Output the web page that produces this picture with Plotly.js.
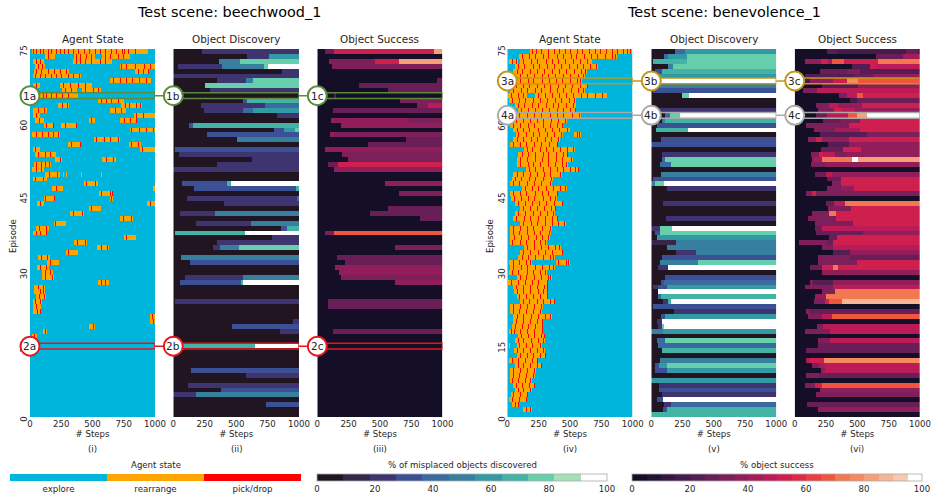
<!DOCTYPE html>
<html><head><meta charset="utf-8">
<script src="https://cdn.plot.ly/plotly-3.0.1.min.js"></script>
<style>html,body{margin:0;padding:0;background:#fff}#c{width:933px;height:496px}</style>
</head><body><div id="c"></div>
<script>
const tickSteps=[0,250,500,750,1000];
const episodeTicks=[0,15,30,45,60,75];
const titles=['Agent State','Object Discovery','Object Success','Agent State','Object Discovery','Object Success'];
const captions=['(i)','(ii)','(iii)','(iv)','(v)','(vi)'];
const sceneTitles=['Test scene: beechwood_1','Test scene: benevolence_1'];
const stateNames=['explore','rearrange','pick/drop'];
const stateColors=['#00b5dc','#ffa500','#ff0000'];
const discoveryColors=['#221522','#362649','#3e3570','#3c5095','#3a6aa0','#367f9e','#3399a2','#43b3a5','#66cfab','#a5e1b7','#ffffff'];
const successColors=['#140e26','#221330','#341744','#451a4c','#561c54','#6a1e57','#7d1f5a','#911e5b','#a61c5a','#bb1b57','#cf1f4f','#df2a47','#ea3e41','#f0553d','#f4784f','#f58a5f','#f6a079','#f6b593','#f6caaf','#ffffff'];

// rows run top (episode 74) to bottom (episode 0); spans are [start,end,...] of non-explore time
const spans1=[[15,945],[115,200,347,520,573,795],[20,107,340,653],[40,120,715,1000],[27,312,835,952],[20,405],[640,965],[20,75,240,493],[253,373,413,565],[80,380],
[540,747],[220,312,725,893],[20,133,640,768],[20,80,827,1000],[40,112,467,520,720,858],[107,192,248,378],[795,1000],[13,240],[507,715],[300,408,787,885],
[20,75,880,1000],[40,205],[195,253,578,685],[27,168],[13,107],[120,235,266,272,286,292,410,416,570,576],[20,133],[427,541],[173,259,981,1000],[547,661],
[107,200,635,661],[53,107,933,1000],[467,568],[320,427],[720,821],[187,288],[48,149],[20,133],[747,848],[352,453],
[533,627],[285,381],[61,160],[133,232],[53,147],[93,181],[93,192],[539,632],[27,120],[32,115],
[43,125],[19,93],[19,90],[19,90],[960,1000],[960,1000],[472,520],[99,133],[13,53],[20,35],
[],[],[],[],[],[],[],[],[],[],[],[],[],[],[]];
const picks1=[[20,45,75,100,140,165,205,240,270,300,345,385,430,470,515,560,600,645,690,735,750,780,835],[140,370,400,445,490,600,640,700,745],[50,80,365,400,440,490,560,600],[65,95,725,770,835,910,960],[45,90,140,190,240,285,860,905,940],[40,80,120,165,205,250,300,345,390],[660,720,770,815,870,930],[45,265,320,385,440],[280,330,440,500,545],[100,130,165,205,255,300],
[565,610,650,700],[255,295,760,790,845,880],[60,110,680,725],[45,850,900],[70,490,750,800,845],[130,180,275,365],[810,870,925,980],[45,95,140,185,225],[530,590,640,700],[330,395,810,860],
[35,895],[60,115,160],[240,610,660],[45,85,120,150],[50,90],[150,215],[40,100],[445,515],[205],[565,640,655],
[120,190,650],[75,960],[490],[345,415],[740,810],[200],[70,125],[45,80,125],[770],[375,440],
[565,615],[305],[90,135],[160],[80,125],[120,160],[120,175],[565,600],[60,100],[75,105],
[70,110],[35,75],[50,85],[55,80],[975],[985],[500],[115],[30],[],
[],[],[],[],[],[],[],[],[],[],[],[],[],[],[]];
const discovery1=[[0,0,225,20],[0,0,583,20,755,60],[0,0,366,50,530,80],[0,0,40,20,384,50,715,80,750,100],[0,0,866,20],[0,20],[0,0,350,20,578,50,636,80],[0,0,252,80],[0,0,291,20],[0,0],
[0,0,556,30,583,70],[0,0,220,20,723,40],[0,0,244,20,556,40,636,60],[0,0,822,20],[0,0],[0,0,125,30,160,70],[0,0,795,30,880,60,967,80],[0,0,270,30],[0,0,509,50],[0,0],
[0,0,13,30],[0,0,45,20],[0,0,623,20],[0,0,345,20],[0,20],[0,0],[0,0],[0,0,74,30,424,70,458,100],[0,0,167,30,975,70],[0,0],
[0,0,111,20,986,40],[0,0,405,20],[0,0],[0,0,58,20,331,50],[0,0],[0,0,180,20,615,50],[0,0,853,30,906,70],[0,0,13,70,570,100],[0,0,782,20],[0,0,350,20],
[0,0,318,20,371,50,525,80],[0,0],[0,0,61,50],[0,0,133,30],[0,0],[0,0],[0,0,93,20,551,50],[0,0,53,30,535,70,551,100],[0,0],[0,0],
[0,0],[0,0,13,20],[0,0],[0,0],[0,0],[0,0,954,20],[0,0,469,30],[0,0,843,20],[0,0],[0,0],
[0,0,60,70,650,100],[0,0],[0,0],[0,0],[0,0],[0,0,140,30],[0,0,577,20],[0,0],[0,0,120,20],[0,0,380,30],
[0,20,185,50],[0,0],[0,0,735,30],[0,0],[0,0]];
const success1=[[0,0,61,25,136,55,933,80],[0,0],[0,0,93,30,461,55,653,80],[0,0,115,30],[0,0],[0,0],[0,0,960,25],[0,0,336,25],[0,0,565,25],[0,0,136,20,150,0],
[0,0,661,30],[0,0,800,30,888,45],[0,0,128,25],[0,0],[0,0,109,35,733,30],[0,0,189,35],[0,0],[0,0,101,35,136,30],[0,0,709,25],[0,0,403,25],
[0,0,64,35],[0,0,200,30],[0,0,248,30],[0,0,88,25,163,50],[0,0,133,35],[0,0],[0,0],[0,0,539,35],[0,0],[0,0,653,30],
[0,0],[0,0],[0,0,568,25],[0,0,419,25],[0,0,821,25],[0,0],[0,0],[0,0,64,30,131,65],[0,0],[0,0],
[0,0,621,30],[0,0],[0,0,155,25],[0,0,221,25],[0,0,141,35],[0,0,176,35],[0,0,187,30],[0,0,621,35],[0,0],[0,0],
[0,0],[0,0,88,25],[0,0,88,25],[0,0],[0,0],[0,0],[0,0],[0,0,128,25],[0,0],[0,0],
[0,0],[0,0],[0,0],[0,0],[0,0],[0,0],[0,0],[0,0],[0,0],[0,0],[0,0],[0,0],[0,0],[0,0],[0,0]];

const spans2=[[181,995],[96,875],[16,88,101,675],[61,728],[48,635],[27,621],[75,595],[0,648],[21,621],[0,155,221,795],
[16,549],[61,549],[88,549],[75,589],[48,475],[21,448],[48,501],[69,448,533,589],[48,421],[21,408],
[133,544],[88,488],[80,528],[75,483],[147,576],[48,435],[35,368],[21,355],[115,480],[21,408],
[27,395],[61,448],[101,389],[61,381],[48,408],[101,469],[21,360],[21,347],[21,340],[21,315],
[133,427],[101,448],[88,381],[16,195,389,501],[21,381],[16,315],[75,355],[8,328],[48,328],[53,328],
[75,328],[101,381],[21,283],[21,275],[48,355],[48,288],[35,288],[16,288],[88,301],[61,301],
[16,25,75,275],[53,301],[75,309],[16,248],[61,275],[21,229],[21,221],[21,195],[48,221],[61,195],
[27,168],[16,160],[35,96],[128,195],[]];
const picks2=[[195,232,271,330,372,415,466,505,560,602,655,703,745,790,835,880,925,960,985],[120,172,225,288,330,395,446,510,552,618,668,720,786,840,862],[40,72,125,190,240,310,355,410,462,530,585,640],[85,135,205,255,320,372,430,492,560,610,665,710],[75,118,182,240,292,360,415,470,535,590,622],[55,100,158,215,275,325,380,445,500,565,610],[105,165,210,280,332,388,440,505,560,585],[25,70,130,175,238,295,345,410,462,520,585,635],[45,110,160,225,270,340,395,448,512,570,605],[30,85,130,245,300,355,415,470,530,590,640,700,760],
[40,95,140,205,260,315,380,430,495,535],[90,135,195,250,310,365,410,470,530],[110,170,225,280,335,395,445,505,540],[95,160,215,270,340,395,445,520,575],[70,125,180,235,290,350,405,460],[45,100,165,215,285,340,395,435],[75,130,175,250,300,355,415,480],[90,150,205,255,320,375,430,555,575],[80,125,190,240,300,350,410],[50,105,150,215,270,335,395],
[155,200,265,310,370,420,480,530],[115,170,225,285,330,390,445,475],[105,155,220,275,325,390,440,510],[100,165,210,260,330,380,435,470],[175,225,285,340,395,450,505,545,565],[75,130,180,240,295,345,420],[60,110,175,225,285,350],[50,95,160,215,270,340],[140,195,245,310,365,420,465],[45,105,150,220,275,330,395],
[55,110,165,215,285,340,385],[85,145,195,255,310,375,435],[125,180,240,295,350,380],[90,140,205,260,315,370],[70,135,185,245,305,355,395],[125,190,240,300,355,410,455],[50,105,160,210,275,345],[45,95,155,215,265,335],[55,110,170,230,280,330],[40,100,150,215,265,305],
[160,215,270,330,385,415],[130,180,245,300,355,435],[115,170,225,285,340,370],[45,95,150,185,410,470,490],[50,110,160,225,280,335,370],[40,90,155,210,265,305],[100,150,215,270,325,345],[30,85,140,195,250,315],[70,130,180,235,295,320],[80,125,185,245,290,318],
[95,150,205,265,315],[125,175,240,290,345,375],[45,100,155,215,270],[50,95,150,205,265],[75,125,190,245,300,345],[70,130,180,235,280],[60,115,165,220,275],[30,55,105,160,215,275],[110,165,215,270,295],[85,130,190,245,290],
[95,150,200,260],[75,125,185,235,290],[100,160,205,265,300],[35,85,140,195,240],[85,130,185,240,268],[45,100,155,215],[50,95,150,210],[40,85,140,185],[70,120,175,215],[85,130,185],
[50,100,160],[40,95,150],[60,85],[150,185],[]];
const discovery2=[[0,0,189,40,269,60],[0,0,104,40,131,60,283,80],[0,0,11,70,283,80],[0,0,136,50,176,80],[0,0,29,30,83,70],[0,0,43,60],[0,0,50,80,75,100],[0,0,30,30,70,50],[0,0,16,30],[0,0,243,80,304,100],
[0,0],[0,0],[0,20],[0,0,109,40,149,80,229,100],[0,0,83,50,109,70],[0,0,43,30],[0,0,37,70,291,100],[0,0],[0,0,75,30],[0,30],
[0,0],[0,0,83,20],[0,0,83,40,109,80],[0,0,69,40,155,80],[0,0],[0,0,75,50],[0,0,16,30],[0,50,29,80,101,100],[0,0,123,20],[0,0],
[0,0],[0,0,96,20],[0,0],[0,0],[0,0,117,20],[0,0],[0,20,69,80,163,100],[0,0,29,30,69,75],[0,0,43,60],[0,10,197,50],
[0,0,128,50],[0,0,197,20,357,50],[0,0,83,30],[0,0,69,50,376,80],[0,0,56,20,131,100],[0,0],[0,0,109,30],[0,0,75,30,101,40],[0,0,11,20,56,30,123,60],[0,0,56,100],
[0,0,56,40,75,70],[0,0,96,20,131,70,155,100],[0,0,16,30],[0,0,181,20],[0,0,75,30,109,60],[0,0,48,20,83,100],[0,0,56,20,88,80,101,100],[0,50,91,60],[0,0],[0,0,48,40,109,80],
[0,0,56,40],[0,0,83,70],[0,0],[0,0,69,50],[0,0,29,30,64,60,123,80],[0,0,29,30,123,60],[0,0],[0,60],[0,0,64,20],[0,0,64,30],
[0,0,83,20],[0,0,43,30,96,100],[0,0,101,20,155,40],[0,0,96,30,128,70],[0,70]];
const success2=[[0,0,255,20,340,15,894,25,987,15],[0,0,654,25,867,40],[0,0,83,35,208,50,264,40,295,65,394,50,667,70],[0,0,455,20,601,50,649,45],[0,0,202,25,415,30,521,20],[0,0,83,20,468,25,628,35],[0,0,83,15,123,35,309,55,415,75,508,65],[0,0,215,20,508,35],[0,0,69,30,176,45],[0,0,356,30,420,45,495,65,548,55],
[0,0,442,15,495,25],[0,0,170,30,276,45,348,35,540,50],[0,0,184,30,314,55,380,45,481,35],[0,0,170,25,255,45,428,65,500,80,575,100],[0,0,229,25,367,30,521,50],[0,0,90,30,436,50],[0,0,154,30,322,40,521,50],[0,0,202,20,580,30],[0,0,109,35,170,55,215,35,436,50],[0,0,269,20,436,35],
[0,0,207,25,388,50,527,35],[0,0,128,30,194,55,229,45,322,30,415,35],[0,0,135,40,221,70,460,100,503,80],[0,0,130,30,242,35],[0,0],[0,0,162,25,247,45,300,35],[0,0,261,25,367,50],[0,0,295,30,367,55],[0,0,261,30,367,35,473,55],[0,0,90,30,141,50,170,30],
[0,0],[0,0,247,25,316,45,402,70],[0,0,269,30,447,55],[0,0,135,30,275,70,330,55],[0,0,109,30,330,55],[0,0,162,30,468,55],[0,0,162,25,221,45],[0,0,174,25,548,35],[0,0,274,25,335,50],[0,0,35,30,255,25,309,50],
[0,0,215,30,309,45],[0,0,309,20,441,35],[0,0,184,30,441,25],[0,0,189,30,495,55],[0,0,122,25,215,50,309,70,343,55],[0,0,215,35],[0,0],[0,0,122,30,144,20,303,35],[0,0,83,30,309,45],[0,0,215,30,322,70],
[0,0,162,35,250,70],[0,0,154,30,242,50,274,65,375,85],[0,0],[0,0,88,35,114,25],[0,0,104,30,215,45,295,65],[0,0],[0,0,176,30,224,45],[0,0,83,30,282,45],[0,0],[0,0,184,30,282,45],
[0,0,189,25],[0,0,90,25],[0,0],[0,0,90,40,114,55,237,75],[0,0,141,30,197,40,242,45],[0,0,210,35,242,45],[0,0,88,30,194,25],[0,0],[0,0,83,30,162,50,215,65],[0,0,202,35],
[0,0,170,30],[0,0],[0,0,96,25],[0,0,189,35],[0,0]];

const W=933,H=496,TOP=49,BOTTOM=417.4,ROW=(BOTTOM-TOP)/75,LOW=-1.2;
const panelX=[[30,155],[173.3,299],[317.3,442.5],[507.3,632.7],[651.3,776.3],[794.7,920]];
const STEP=4;
const xCenters=[];for(let s=STEP/2;s<1000;s+=STEP)xCenters.push(s);
const yCenters=[];for(let r=0;r<75;r++)yCenters.push(r+0.5);
function stepZ(rows){ // [start,value,...] per row
  return rows.slice().reverse().map(r=>xCenters.map(x=>{let v=0;for(let i=0;i<r.length;i+=2){if(x>=r[i])v=r[i+1];}return v;}));
}
function stateZ(spans,picks){
  const s=spans.slice().reverse(),p=picks.slice().reverse();
  return s.map((row,i)=>xCenters.map(x=>{
    let v=0;for(let j=0;j<row.length;j+=2){if(x>=row[j]&&x<row[j+1])v=1;}
    if(v===1)for(const q of p[i]){if(x>=q&&x<q+8)v=2;}
    return v;}));
}
function bands(cols){const n=cols.length,o=[];cols.forEach((c,i)=>{o.push([i/n,c]);o.push([(i+1)/n,c]);});return o;}
const FONT='"DejaVu Sans", sans-serif',INK='#262626',SMALL=8.6;
function cbar(left,right,extra){return Object.assign({orientation:'h',lenmode:'pixels',len:right-left,thickness:7,thicknessmode:'pixels',
  xref:'container',yref:'container',x:left/W,xanchor:'left',y:(H-474)/H,yanchor:'top',xpad:0,ypad:0,
  outlinecolor:'#aaaaaa',outlinewidth:0.8,borderwidth:0,ticks:'',ticklen:0,tickfont:{family:FONT,size:SMALL,color:INK}},extra);}
const pctTicks={tickvals:[0,20,40,60,80,100],ticktext:['0','20','40','60','80','100']};
const panels=[
 {z:stateZ(spans1,picks1),cs:stateColors,zmin:-0.5,zmax:2.5,cb:cbar(10,301,{tickvals:[0,1,2],ticktext:stateNames,outlinewidth:0})},
 {z:stepZ(discovery1),cs:discoveryColors,zmin:0,zmax:100,cb:cbar(317,607,pctTicks)},
 {z:stepZ(success1),cs:successColors,zmin:0,zmax:100,cb:null},
 {z:stateZ(spans2,picks2),cs:stateColors,zmin:-0.5,zmax:2.5,cb:null},
 {z:stepZ(discovery2),cs:discoveryColors,zmin:0,zmax:100,cb:null},
 {z:stepZ(success2),cs:successColors,zmin:0,zmax:100,cb:cbar(632,922,pctTicks)}
];
const barTitles=[['Agent state',155.5],['% of misplaced objects discovered',462],['% object success',777]];
const layout={width:W,height:H,margin:{l:0,r:0,t:0,b:0,autoexpand:false},paper_bgcolor:'#fff',plot_bgcolor:'#fff',showlegend:false,font:{family:FONT,color:INK},annotations:[],shapes:[]};
const data=[];
const episodeTickPos=[-0.6,14,29,44.4,59.2,74.4];
panels.forEach((p,i)=>{
  const s=i?String(i+1):'';
  const t={type:'heatmap',x:xCenters,y:yCenters,z:p.z,zmin:p.zmin,zmax:p.zmax,colorscale:bands(p.cs),xaxis:'x'+s,yaxis:'y'+s,hoverinfo:'skip',showscale:!!p.cb};
  if(p.cb)t.colorbar=p.cb;
  data.push(t);
  layout['xaxis'+s]={domain:[panelX[i][0]/W,panelX[i][1]/W],range:[0,1000],anchor:'free',position:(H-BOTTOM)/H,tickvals:tickSteps,ticktext:tickSteps.map(String),tickangle:0,
    tickfont:{family:FONT,size:SMALL,color:INK},ticks:'outside',ticklen:0,ticklabelstandoff:-2,showgrid:false,zeroline:false,showline:false,
    title:{text:'# Steps',font:{family:FONT,size:SMALL,color:INK},standoff:0}};
  const hasY=i===0||i===3;
  layout['yaxis'+s]={domain:[(H-BOTTOM-(-LOW)*ROW)/H,(H-TOP)/H],range:[LOW,75],anchor:'x'+s,tickvals:hasY?episodeTickPos:[],ticktext:hasY?episodeTicks.map(String):[],tickangle:-90,
    tickfont:{family:FONT,size:SMALL,color:INK},ticks:'',showgrid:false,zeroline:false,showline:false,showticklabels:hasY,
    title:hasY?{text:'Episode',font:{family:FONT,size:SMALL,color:INK},standoff:1}:{text:''}};
  const cx=(panelX[i][0]+panelX[i][1])/2;
  layout.annotations.push({xref:'paper',yref:'paper',x:cx/W,y:(H-39)/H,text:titles[i],showarrow:false,xanchor:'center',yanchor:'middle',font:{family:FONT,size:10.4,color:INK}});
  layout.annotations.push({xref:'paper',yref:'paper',x:cx/W,y:(H-449)/H,text:captions[i],showarrow:false,xanchor:'center',yanchor:'middle',font:{family:FONT,size:SMALL,color:INK}});
});
barTitles.forEach(([text,cx])=>layout.annotations.push({xref:'paper',yref:'paper',x:cx/W,y:(H-465)/H,text,showarrow:false,xanchor:'center',yanchor:'middle',font:{family:FONT,size:SMALL,color:INK}}));
[[228.5,0],[723.5,1]].forEach(([cx,i])=>layout.annotations.push({xref:'paper',yref:'paper',x:cx/W,y:(H-12)/H,text:sceneTitles[i],showarrow:false,xanchor:'center',yanchor:'middle',font:{family:FONT,size:14.4,color:'#000'}}));

const highlights=[
 {tag:'1',row:65.5,first:0,color:'#5b8c3e'},
 {tag:'2',row:14.5,first:0,color:'#e8141c'},
 {tag:'3',row:68.5,first:3,color:'#c1981d'},
 {tag:'4',row:61.5,first:3,color:'#a9a9a9'}];
highlights.forEach(h=>{
  ['a','b','c'].forEach((l,j)=>{
    const i=h.first+j,s=i?String(i+1):'',xa='x'+s,ya='y'+s;
    layout.shapes.push({type:'rect',xref:xa,yref:ya,x0:0,x1:1000,y0:h.row-0.58,y1:h.row+0.58,line:{color:h.color,width:1.5},fillcolor:'rgba(0,0,0,0)'});
    if(j<2)layout.shapes.push({type:'line',xref:'paper',yref:ya,x0:panelX[i][1]/W,x1:panelX[i+1][0]/W,y0:h.row,y1:h.row,line:{color:h.color,width:1.5}});
  });
  ['a','b','c'].forEach((l,j)=>{
    const i=h.first+j,s=i?String(i+1):'',ya='y'+s;
    layout.shapes.push({type:'circle',xref:'paper',yref:ya,xsizemode:'pixel',ysizemode:'pixel',xanchor:panelX[i][0]/W,yanchor:h.row,x0:-9.5,x1:9.5,y0:-9.5,y1:9.5,line:{color:h.color,width:2},fillcolor:'#fff'});
    layout.annotations.push({xref:'paper',yref:ya,x:panelX[i][0]/W,y:h.row,text:h.tag+l,showarrow:false,xanchor:'center',yanchor:'middle',font:{family:FONT,size:10.5,color:INK}});
  });
});
Plotly.newPlot('c',data,layout,{staticPlot:true,displayModeBar:false});
</script></body></html>
